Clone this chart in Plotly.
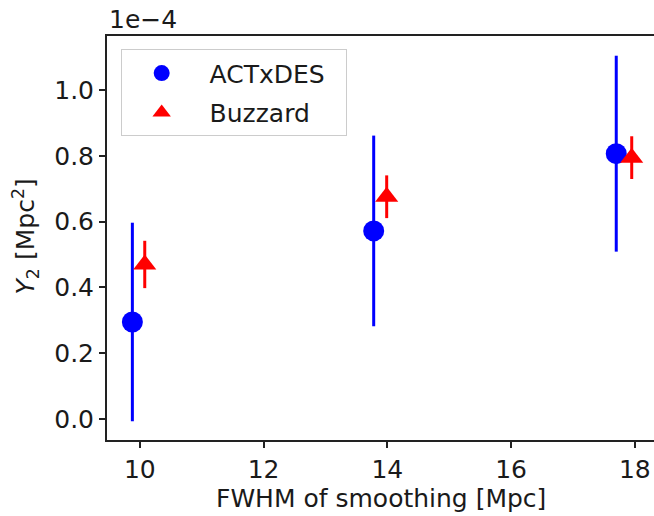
import plotly.graph_objects as go

# Data (Y2 in units of 1e-4 Mpc^2)
act_x = [9.88, 13.78, 17.70]
act_y = [0.295, 0.572, 0.807]
act_err = [0.302, 0.290, 0.298]

buz_x = [10.08, 13.99, 17.95]
buz_y = [0.470, 0.676, 0.795]
buz_err = [0.072, 0.065, 0.065]

x_ticks = [10, 12, 14, 16, 18]
y_ticks = [0.0, 0.2, 0.4, 0.6, 0.8, 1.0]

FONT = "DejaVu Sans"
FS = 25

fig = go.Figure()
fig.add_trace(go.Scatter(
    x=act_x, y=act_y, mode="markers", name=" ACTxDES  ", legendgroup="a",
    marker=dict(symbol="circle", size=21, color="#0000ff", line=dict(width=0)),
    error_y=dict(type="data", array=act_err, visible=True, thickness=3, width=0, color="#0000ff"),
))
fig.add_trace(go.Scatter(
    x=buz_x, y=buz_y, mode="markers", name=" Buzzard", legendgroup="b",
    marker=dict(symbol="triangle-up", size=20, color="#ff0000", line=dict(width=0)),
    error_y=dict(type="data", array=buz_err, visible=True, thickness=3, width=0, color="#ff0000"),
))

axis_common = dict(
    showgrid=False, zeroline=False, showline=True, linecolor="#222222", linewidth=2,
    ticks="outside", ticklen=6, tickwidth=1.5, tickcolor="#222222",
    tickfont=dict(family=FONT, size=FS, color="#1a1a1a"),
)
fig.update_xaxes(range=[9.47, 18.31], tickvals=x_ticks, ticktext=[str(v) for v in x_ticks],
                 mirror=True, **axis_common)
fig.update_yaxes(range=[-0.064, 1.165], tickvals=y_ticks, ticktext=[f"{v:.1f}" for v in y_ticks],
                 mirror=False, **axis_common)

fig.add_annotation(text="FWHM of smoothing [Mpc]", xref="paper", yref="paper",
                   x=0.5, y=-0.146, xanchor="center", yanchor="middle", showarrow=False,
                   font=dict(family=FONT, size=FS, color="#1a1a1a"))
fig.add_annotation(text="<i>Y</i><sub>2</sub> [Mpc<sup>2</sup>]", xref="paper", yref="paper",
                   x=-0.148, y=0.504, xanchor="center", yanchor="middle", textangle=-90,
                   showarrow=False, font=dict(family=FONT, size=FS, color="#1a1a1a"))
fig.add_annotation(text="1e\u22124", xref="paper", yref="paper",
                   x=0.0, y=1.0, xanchor="left", yanchor="bottom", yshift=0, showarrow=False,
                   font=dict(family=FONT, size=FS, color="#1a1a1a"))

fig.update_layout(
    width=654, height=516,
    margin=dict(l=107, r=0, t=36, b=76),
    paper_bgcolor="white", plot_bgcolor="white",
    font=dict(family=FONT, size=FS, color="#1a1a1a"),
    showlegend=True,
    legend=dict(x=0.025, y=0.967, xanchor="left", yanchor="top",
                traceorder="grouped", tracegroupgap=4,
                bgcolor="rgba(255,255,255,0.8)", bordercolor="#cccccc", borderwidth=1,
                itemwidth=70, font=dict(family=FONT, size=FS, color="#1a1a1a")),
)

fig.write_html("out.html", config={"displayModeBar": False},
               post_script="document.body.style.margin='0px';")
